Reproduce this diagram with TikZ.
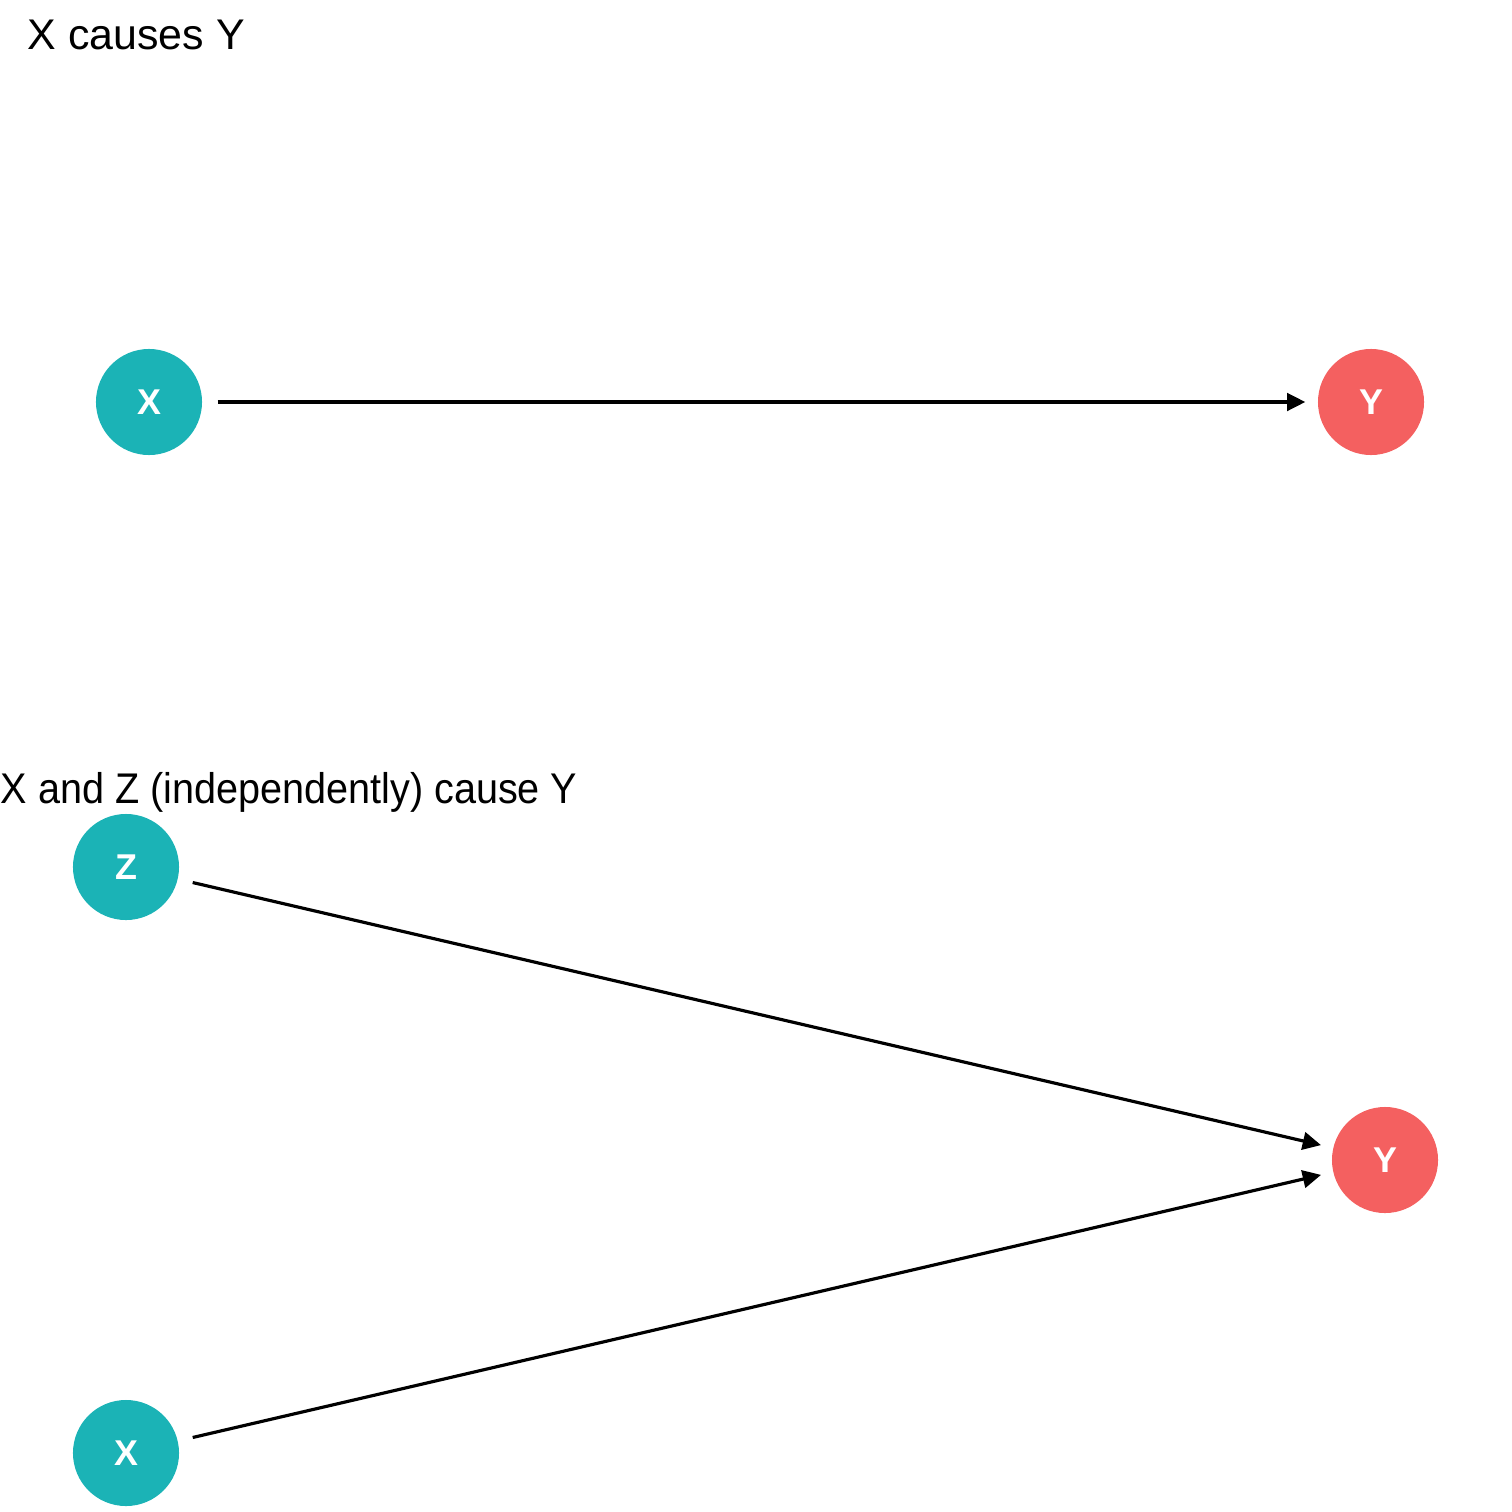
\documentclass[tikz,border=0pt]{standalone}
\usepackage{fontspec}
\setmainfont{Liberation Sans}
\usetikzlibrary{arrows.meta}
\definecolor{tealc}{HTML}{1BB3B6}
\definecolor{redc}{HTML}{F46060}
\begin{document}
\begin{tikzpicture}[x=0.01cm,y=-0.01cm,
  cause/.style={circle,fill=tealc,minimum size=1.06cm,inner sep=0pt,text=white,font=\bfseries\fontsize{10.2}{12}\selectfont},
  outc/.style={cause,fill=redc},
  edge/.style={line width=0.9pt,-{Triangle[length=5.2pt,width=5pt]},shorten <=4.2pt,shorten >=3.4pt},
  title/.style={anchor=base west,inner sep=0pt,font=\fontsize{12.2}{14}\selectfont}]
\useasboundingbox (0,0) rectangle (1512,1512);
\node[title] (t1) at (27,50) {X causes Y};
\node[cause] (x1) at (149,402) {X};
\node[outc] (y1) at (1371,402) {Y};
\draw[edge] (x1) -- (y1);
\node[title] (t2) at (0,803) {\scalebox{0.923}[1]{X and Z (independently) cause Y}};
\node[cause] (z2) at (126,867) {Z};
\node[cause] (x2) at (126,1453) {X};
\node[outc] (y2) at (1385,1160) {Y};
\draw[edge] (z2) -- (y2);
\draw[edge] (x2) -- (y2);
\end{tikzpicture}
\end{document}
